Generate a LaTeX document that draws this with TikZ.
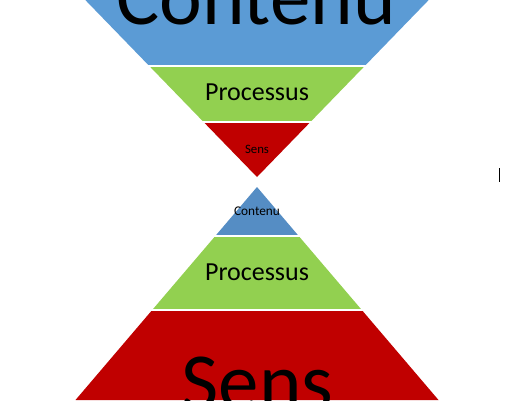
\documentclass[tikz,border=0pt]{standalone}
\usepackage{fontspec}
\setmainfont{Carlito}
\definecolor{topblue}{HTML}{5B9BD5}
\definecolor{lowblue}{HTML}{558DC4}
\definecolor{lgreen}{HTML}{92D050}
\definecolor{dred}{HTML}{C00000}
\tikzset{
  sep/.style={draw=white,line width=1.6pt},
  lab/.style={anchor=base,inner sep=0pt,text=black},
}
\newcommand{\fsz}[1]{\fontsize{#1}{#1}\selectfont}
\begin{document}
\begin{tikzpicture}[x=1pt,y=-1pt]
\useasboundingbox (0,0) rectangle (506,400);
\fill[white] (0,0) rectangle (506,400);
\begin{scope}
\clip (0,0) rectangle (506,400);
% top inverted funnel: apex (257,177), half-width = 0.97*(177-y)
\fill[topblue] (85.3,0) -- (428.7,0) -- (364.7,66) -- (149.3,66) -- cycle;
\fill[lgreen] (149.3,66) -- (364.7,66) -- (310.4,122) -- (203.6,122) -- cycle;
\fill[dred] (203.6,122) -- (310.4,122) -- (257,177) -- cycle;
\draw[sep] (140,66) -- (374,66);
\draw[sep] (195,122) -- (319,122);
% bottom pyramid: apex (257,187), half-width = 0.852*(y-187)
\fill[lowblue] (257,187) -- (298.7,236) -- (215.3,236) -- cycle;
\fill[lgreen] (215.3,236) -- (298.7,236) -- (361.8,310) -- (152.2,310) -- cycle;
\fill[dred] (152.2,310) -- (361.8,310) -- (438.5,400) -- (75.5,400) -- cycle;
\draw[sep] (205,236) -- (309,236);
\draw[sep] (140,310) -- (374,310);
% labels
\node[lab,font=\fsz{81}] (c1) at (256,24) {Contenu};
\node[lab,font=\fsz{26}] (p1) at (257,100) {Processus};
\node[lab,font=\fsz{12.8}] (s1) at (257,153) {Sens};
\node[lab,font=\fsz{13.3}] (c2) at (257,215) {Contenu};
\node[lab,font=\fsz{26}] (p2) at (257,280) {Processus};
\node[lab,font=\fsz{81}] (s2) at (257.5,409) {Sens};
\end{scope}
% text cursor
\coordinate (k1) at (499.5,168);
\coordinate (k2) at (499.5,182);
\draw[black,line width=1pt] (k1) -- (k2);
\end{tikzpicture}
\end{document}
